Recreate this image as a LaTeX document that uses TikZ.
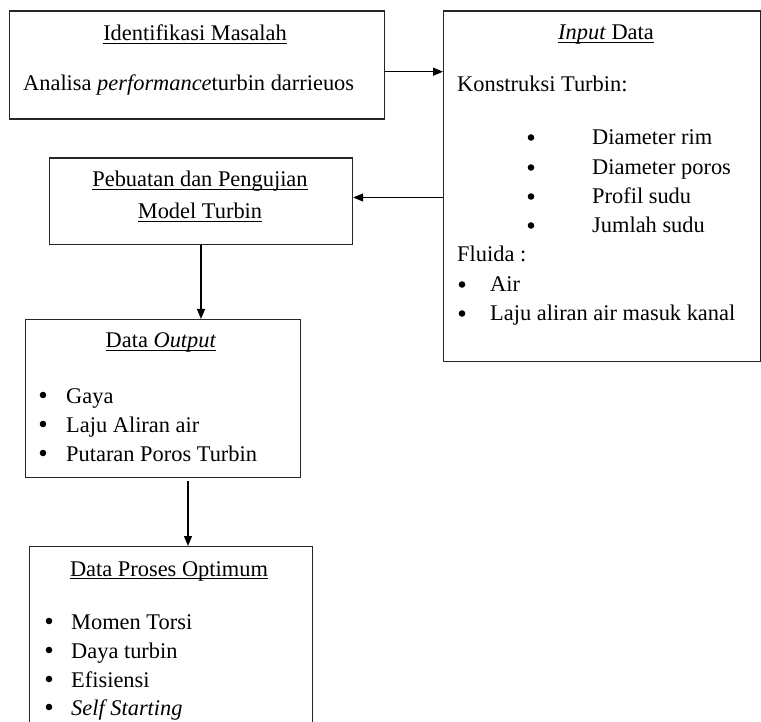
\documentclass[tikz,border=0pt]{standalone}
\usepackage{fontspec}
\setmainfont{Liberation Serif}
\usetikzlibrary{arrows.meta}
\newsavebox\ulbox
\newcommand\myul[1]{\sbox\ulbox{#1}\rlap{\rule[-2.8pt]{\wd\ulbox}{1.1pt}}\usebox\ulbox}
\begin{document}
\begin{tikzpicture}[x=1pt,y=-1pt,
  box/.style={draw=black!85, line width=1.2pt, rectangle, inner sep=0pt, anchor=north west},
  txt/.style={inner sep=0pt, font=\fontsize{22.4}{29}\selectfont},
  dot/.style={circle, fill=black, inner sep=0pt, minimum size=6.6pt},
  arr/.style={line width=1.2pt, -{Triangle[length=10pt,width=8pt]}},
  ln/.style={line width=1.2pt}]
\useasboundingbox (0,0) rectangle (761,722);
\clip (0,0) rectangle (761,722);
% boxes
\node[box, minimum width=375pt, minimum height=108pt] (b1) at (9,10.5) {};
\node[box, minimum width=317pt, minimum height=350.5pt] (b2) at (443,10.5) {};
\node[box, minimum width=303pt, minimum height=86.5pt] (b3) at (49,157.5) {};
\node[box, minimum width=275pt, minimum height=158pt] (b4) at (25,319) {};
\node[box, minimum width=283pt, minimum height=220pt] (b5) at (29,546) {};
% box 1
\node[txt, anchor=base] (t1) at (195,41) {\myul{Identifikasi Masalah}};
\node[txt, anchor=base west] (t1a) at (23,91) {Analisa \textit{performance}turbin darrieuos};
% box 2
\node[txt, anchor=base] (t2) at (606,40) {\myul{\textit{Input} Data}};
\node[txt, anchor=base west] (t2a) at (457,92) {Konstruksi Turbin:};
\node[dot] (k1) at (531,137.5) {};
\node[txt, anchor=base west] (k1t) at (592,145) {Diameter rim};
\node[dot] (k2) at (531,167.5) {};
\node[txt, anchor=base west] (k2t) at (592,175) {Diameter poros};
\node[dot] (k3) at (531,196.5) {};
\node[txt, anchor=base west] (k3t) at (592,204) {Profil sudu};
\node[dot] (k4) at (531,225.5) {};
\node[txt, anchor=base west] (k4t) at (592,233) {Jumlah sudu};
\node[txt, anchor=base west] (t2b) at (457,262) {Fluida :};
\node[dot] (f1) at (462,284.5) {};
\node[txt, anchor=base west] (f1t) at (490,292) {Air};
\node[dot] (f2) at (462,313.5) {};
\node[txt, anchor=base west] (f2t) at (490,321) {Laju aliran air masuk kanal};
% box 3
\node[txt, anchor=base] (t3a) at (200,187) {\myul{Pebuatan dan Pengujian}};
\node[txt, anchor=base] (t3b) at (200,219) {\myul{Model Turbin}};
% box 4
\node[txt, anchor=base] (t4) at (161,348) {\myul{Data \textit{Output}}};
\node[dot] (o1) at (43,395) {};
\node[txt, anchor=base west] (o1t) at (66,403) {Gaya};
\node[dot] (o2) at (43,424) {};
\node[txt, anchor=base west] (o2t) at (66,432) {Laju Aliran air};
\node[dot] (o3) at (43,453) {};
\node[txt, anchor=base west] (o3t) at (66,461) {Putaran Poros Turbin};
% box 5
\node[txt, anchor=base] (t5) at (169,576) {\myul{Data Proses Optimum}};
\node[dot] (p1) at (49,621) {};
\node[txt, anchor=base west] (p1t) at (71,629) {Momen Torsi};
\node[dot] (p2) at (49,650) {};
\node[txt, anchor=base west] (p2t) at (71,658) {Daya turbin};
\node[dot] (p3) at (49,679) {};
\node[txt, anchor=base west] (p3t) at (71,687) {Efisiensi};
\node[dot] (p4) at (49,707) {};
\node[txt, anchor=base west] (p4t) at (71,715) {\textit{Self Starting}};
% connectors
\coordinate (y1) at (0,71.7);
\coordinate (y2) at (0,197.5);
\coordinate (x3) at (201,0);
\coordinate (x4) at (188,480.5);
\draw[arr] (b1.east |- y1) -- (b2.west |- y1);
\draw[arr] (b2.west |- y2) -- (b3.east |- y2);
\draw[arr] (b3.south -| x3) -- (b4.north -| x3);
\draw[arr] (x4) -- (b5.north -| x4);
\end{tikzpicture}
\end{document}
